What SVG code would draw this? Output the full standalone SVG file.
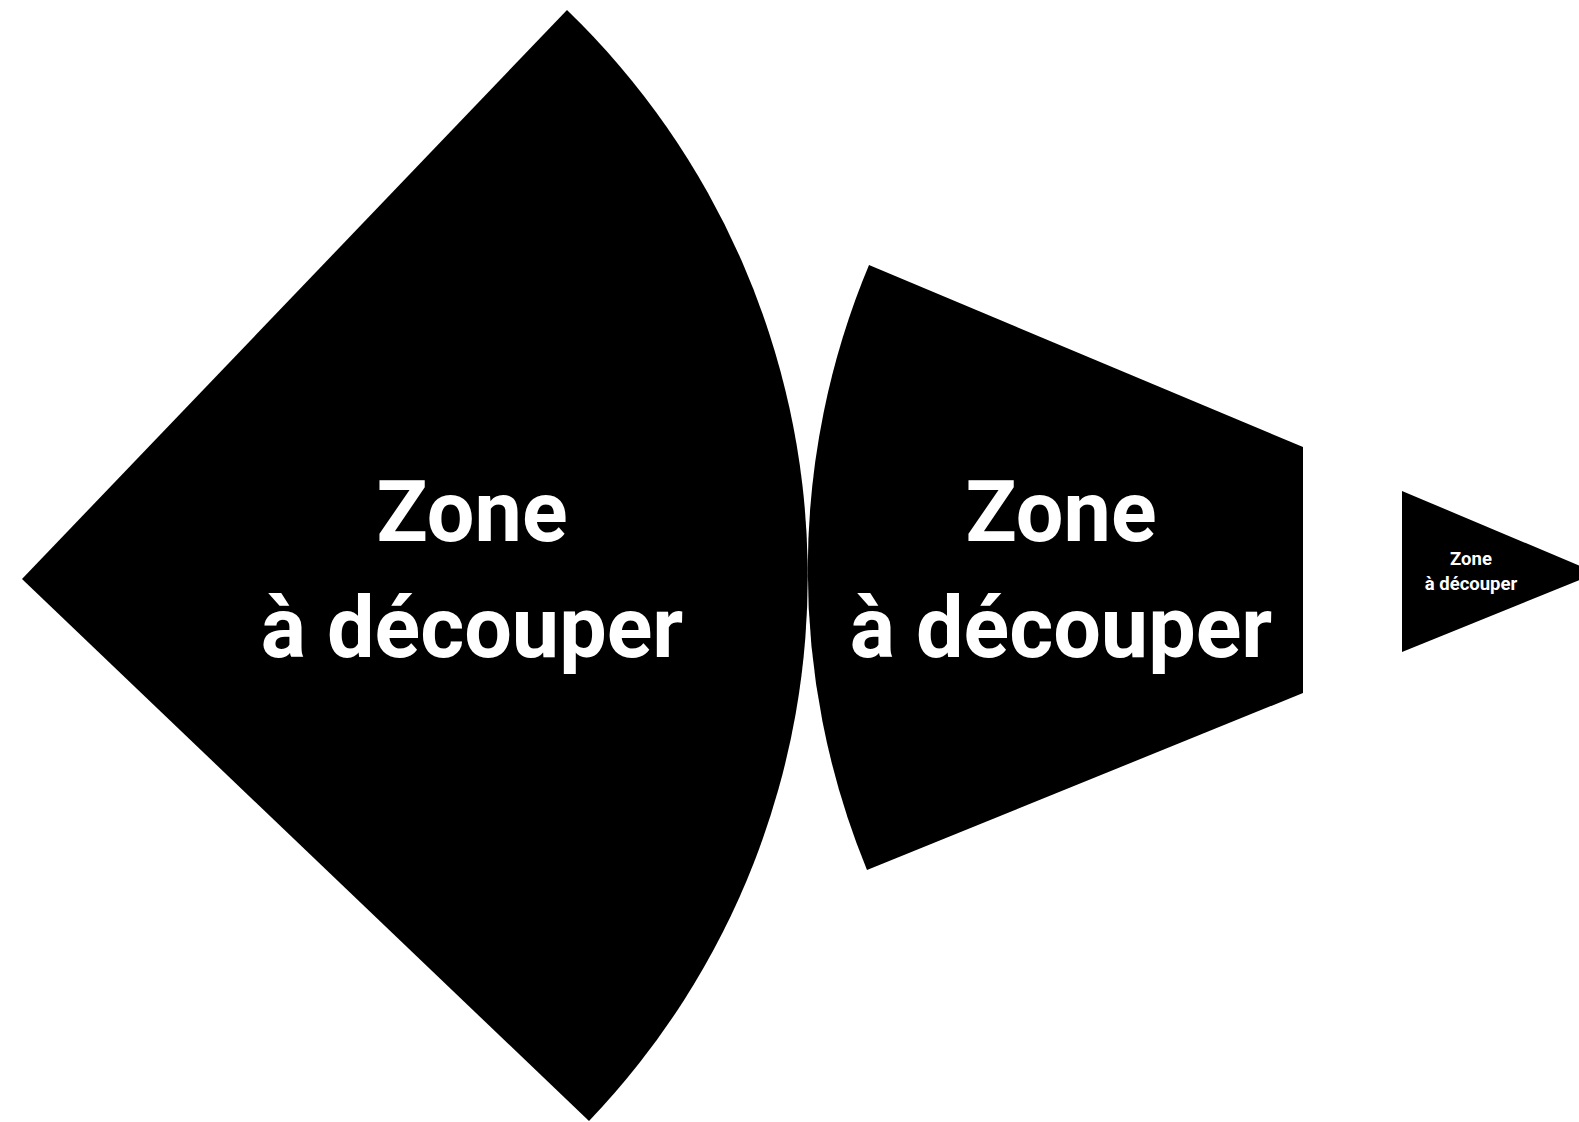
<svg xmlns="http://www.w3.org/2000/svg" width="1579" height="1122" viewBox="0 0 1579 1122">
<style>
.shape{fill:#000;stroke:none}
.lbl{font-family:Roboto,"Liberation Sans",sans-serif;font-weight:bold;fill:#fff;text-anchor:middle}
.big{font-size:84.5px}
.small{font-size:18.5px}
</style>
<rect width="1579" height="1122" fill="#fff"/>
<g id="zone-1">
<path class="shape" d="M 567 10 L 22 579 L 589 1121 A 787 787 0 0 0 567 10 Z"/>
<text class="lbl big" x="472" y="541">Zone</text>
<text class="lbl big" x="472" y="657">à découper</text>
</g>
<g id="zone-2">
<path class="shape" d="M 869 265 L 1303 447 L 1303 693 L 867 870 A 790 790 0 0 1 869 265 Z"/>
<text class="lbl big" x="1061" y="541">Zone</text>
<text class="lbl big" x="1061" y="657">à découper</text>
</g>
<g id="zone-3">
<path class="shape" d="M 1402 491 L 1597 573 L 1402 652 Z"/>
<text class="lbl small" x="1471" y="565">Zone</text>
<text class="lbl small" x="1471" y="590">à découper</text>
</g>
<g id="connectors"/>
</svg>
